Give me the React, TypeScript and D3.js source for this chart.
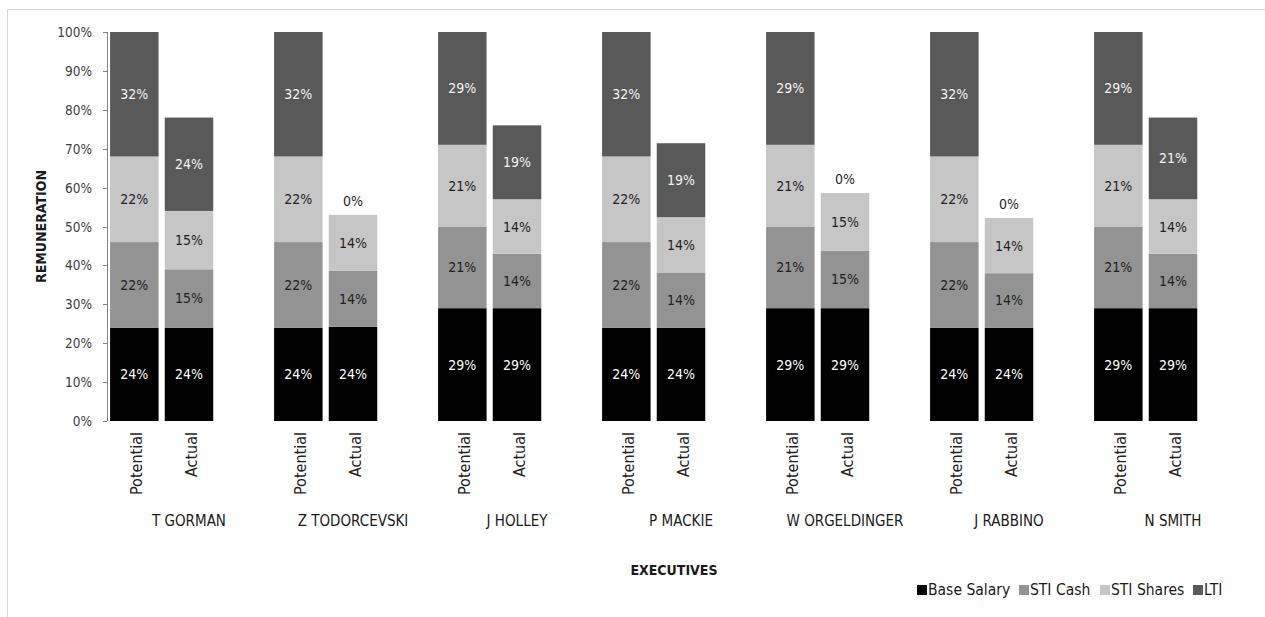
import React from "react";
import * as d3 from "d3";

const executives = ["T GORMAN", "Z TODORCEVSKI", "J HOLLEY", "P MACKIE", "W ORGELDINGER", "J RABBINO", "N SMITH"];
const scenarios = ["Potential", "Actual"];
const seriesKeys = ["base", "cash", "shares", "lti"];
const seriesNames = ["Base Salary", "STI Cash", "STI Shares", "LTI"];
const seriesColors = ["#000000", "#939393", "#c6c6c6", "#595959"];
const labelColors = ["#ffffff", "#1f1f1f", "#1f1f1f", "#f2f2f2"];

const potentialBase = [24, 24, 29, 24, 29, 24, 29];
const potentialCash = [22, 22, 21, 22, 21, 22, 21];
const potentialShares = [22, 22, 21, 22, 21, 22, 21];
const potentialLti = [32, 32, 29, 32, 29, 32, 29];

const actualBase = [24, 24.2, 29, 24, 29, 24, 29];
const actualCash = [15, 14.4, 14, 14.2, 14.8, 14, 14];
const actualShares = [15, 14.4, 14, 14.2, 14.8, 14.2, 14];
const actualLti = [24, 0, 19, 19, 0, 0, 21];

const yTicks = [0, 10, 20, 30, 40, 50, 60, 70, 80, 90, 100];

const FONT = "'DejaVu Sans Condensed', 'DejaVu Sans', sans-serif";

type Row = { exec: string; scen: string; base: number; cash: number; shares: number; lti: number };

const rows: Row[] = [];
executives.forEach((e, i) => {
  rows.push({ exec: e, scen: "Potential", base: potentialBase[i], cash: potentialCash[i], shares: potentialShares[i], lti: potentialLti[i] });
  rows.push({ exec: e, scen: "Actual", base: actualBase[i], cash: actualCash[i], shares: actualShares[i], lti: actualLti[i] });
});

export default function App() {
  const W = 1265, H = 617;
  const left = 107, right = 1255, top = 32, bottom = 421;

  const x0 = d3.scaleBand<string>().domain(executives).range([left, right]).paddingInner(0).paddingOuter(0);
  const x1 = d3.scaleBand<string>().domain([...scenarios, "gap"]).range([0, x0.bandwidth()]).paddingInner(0.113).paddingOuter(0.0565);
  const y = d3.scaleLinear().domain([0, 100]).range([bottom, top]);

  const stacked = d3.stack<Row>().keys(seriesKeys)(rows);

  // legend layout
  const legendFont = 15.5;
  const legendWidths = [82, 61, 73, 21];
  let lx = 917;
  const legendItems = seriesNames.map((n, i) => {
    const item = { n, i, x: lx };
    lx += 11 + legendWidths[i] + 9;
    return item;
  });

  return (
    <svg width={W} height={H} style={{ position: "absolute", left: 0, top: 0, background: "#fff" }} fontFamily={FONT}>
      {/* chart border */}
      <path d={`M7.5,${H} L7.5,9.5 L${W},9.5`} fill="none" stroke="#d9d9d9" strokeWidth={1} />

      {/* y axis */}
      <line x1={left + 0.5} x2={left + 0.5} y1={top} y2={bottom} stroke="#868686" />
      {yTicks.map((t) => (
        <g key={t}>
          <line x1={left - 4} x2={left} y1={Math.round(y(t)) + 0.5} y2={Math.round(y(t)) + 0.5} stroke="#868686" />
          <text x={92} y={y(t)} textAnchor="end" dominantBaseline="central" fontSize={13.5} fill="#404040">
            {t}%
          </text>
        </g>
      ))}

      {/* bars */}
      {stacked.map((layer, si) => (
        <g key={layer.key} fill={seriesColors[si]}>
          {layer.map((d, j) => {
            const r = d.data;
            const bx = (x0(r.exec) as number) + (x1(r.scen) as number);
            return <rect key={j} x={bx} y={y(d[1])} width={x1.bandwidth()} height={Math.max(0, y(d[0]) - y(d[1]))} />;
          })}
        </g>
      ))}

      {/* data labels */}
      {stacked.map((layer, si) => (
        <g key={"l" + layer.key}>
          {layer.map((d, j) => {
            const r = d.data;
            const v = d[1] - d[0];
            const cx = (x0(r.exec) as number) + (x1(r.scen) as number) + x1.bandwidth() / 2;
            const zero = v === 0;
            const cy = zero ? y(d[1]) - 14 : (y(d[0]) + y(d[1])) / 2;
            return (
              <text key={j} x={cx} y={cy} textAnchor="middle" dominantBaseline="central" fontSize={14} fill={zero ? "#1f1f1f" : labelColors[si]}>
                {Math.round(v)}%
              </text>
            );
          })}
        </g>
      ))}

      {/* scenario labels */}
      {rows.map((r, j) => {
        const cx = (x0(r.exec) as number) + (x1(r.scen) as number) + x1.bandwidth() / 2 + 2;
        return (
          <text key={j} transform={`translate(${cx},432) rotate(-90)`} textAnchor="end" dominantBaseline="central" fontSize={16} fill="#1f1f1f">
            {r.scen}
          </text>
        );
      })}

      {/* executive labels */}
      {executives.map((e) => (
        <text key={e} x={(x0(e) as number) + x0.bandwidth() / 2} y={526} textAnchor="middle" fontSize={15} fill="#1a1a1a">
          {e}
        </text>
      ))}

      {/* axis titles */}
      <text transform={`translate(41,${(top + bottom) / 2}) rotate(-90)`} textAnchor="middle" dominantBaseline="central" fontSize={14} fontWeight="bold" fill="#1a1a1a">
        REMUNERATION
      </text>
      <text x={674} y={570} textAnchor="middle" dominantBaseline="central" fontSize={14} fontWeight="bold" fill="#1a1a1a">
        EXECUTIVES
      </text>

      {/* legend */}
      {legendItems.map((it) => (
        <g key={it.n}>
          <rect x={it.x} y={585} width={10} height={10} fill={seriesColors[it.i]} />
          <text x={it.x + 11} y={590} dominantBaseline="central" fontSize={legendFont} fill="#1a1a1a">
            {it.n}
          </text>
        </g>
      ))}
    </svg>
  );
}
